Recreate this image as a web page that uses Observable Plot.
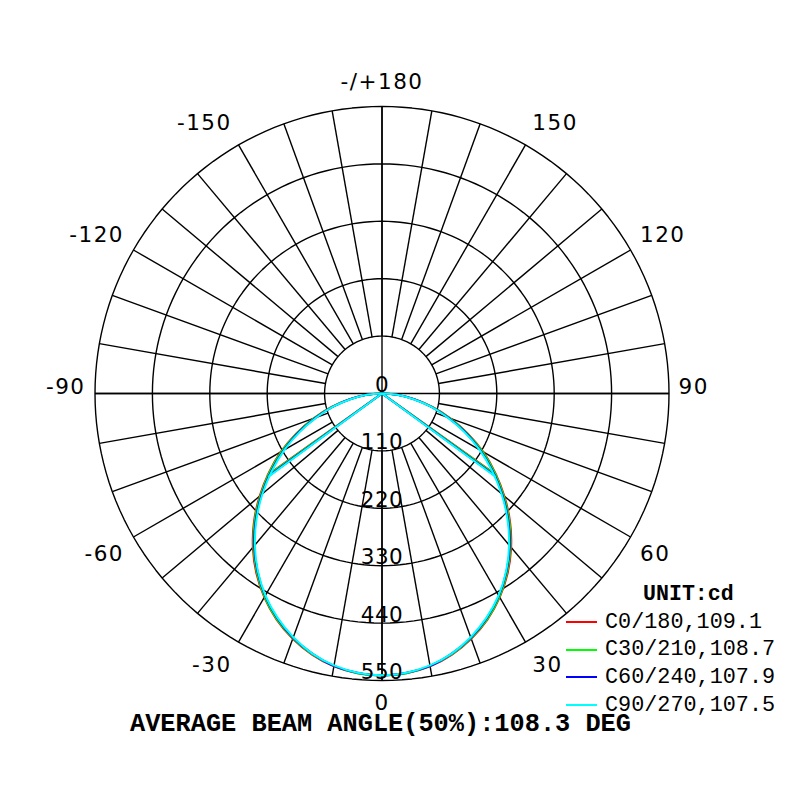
<!DOCTYPE html>
<html>
<head>
<meta charset="utf-8">
<script src="https://cdn.jsdelivr.net/npm/d3@7"></script>
<script src="https://cdn.jsdelivr.net/npm/@observablehq/plot@0.6"></script>
<style>
  body { margin: 0; background: #fff; }
  #wrap { position: relative; width: 800px; height: 800px; overflow: hidden; background: #fff; }
  #chart { position: absolute; left: 0; top: 0; }
  .mono { position: absolute; white-space: pre; color: #000;
          font-family: "Liberation Mono", "DejaVu Sans Mono", monospace; }
  .swatch { position: absolute; height: 2px; }
  .angle-labels text { letter-spacing: 1.5px; }
  .radial-labels text { letter-spacing: 0.5px; }
</style>
</head>
<body>
<div id="wrap">
  <div id="chart"></div>
</div>
<script>
// ---------------- data ----------------
const gammas = [0, 5, 10, 15, 20, 25, 30, 35, 40, 45, 50, 55, 60, 65, 70, 75, 80, 85, 90];
const c0   = [540, 538, 531, 518, 500, 478, 451, 420, 385, 347, 306, 265, 224, 181, 140, 100, 63, 30, 0];
const c30  = [540, 538, 530, 517, 499, 477, 450, 418, 383, 345, 304, 263, 222, 179, 138, 99, 62, 30, 0];
const c60  = [540, 537, 530, 516, 498, 475, 448, 416, 381, 342, 301, 259, 218, 176, 135, 97, 61, 29, 0];
const c90  = [540, 537, 529, 516, 497, 474, 447, 415, 379, 340, 299, 257, 216, 174, 133, 96, 60, 29, 0];
const seriesNames  = ["C0/180", "C30/210", "C60/240", "C90/270"];
const seriesValues = [c0, c30, c60, c90];
const seriesColors = ["#ff0000", "#00ff00", "#0000ff", "#00ffff"];
const beamAngles   = [109.1, 108.7, 107.9, 107.5];
const ringValues   = [110, 220, 330, 440, 550];
const radialTickValues = [0, 110, 220, 330, 440, 550];
const angleTicks      = [-150, -120, -90, -60, -30, 0, 30, 60, 90, 120, 150, 180];
const angleTickLabels = ["-150", "-120", "-90", "-60", "-30", "0", "30", "60", "90", "120", "150", "-/+180"];
const spokeAngles = d3.range(0, 360, 10);
const unitLabel = "UNIT:cd";
const captionText = "AVERAGE BEAM ANGLE(50%):108.3 DEG";

// ---------------- helpers ----------------
const maxR = 550;
const pxPerUnit = 287 / maxR;
const rad = a => a * Math.PI / 180;
// angle 0 = straight down, positive = to the right
const px = (a, v) => v * Math.sin(rad(a));
const py = (a, v) => -v * Math.cos(rad(a));

// rings
const ringPts = [];
for (const r of ringValues) {
  for (let a = 0; a <= 360; a += 2) ringPts.push({ring: r, x: px(a, r), y: py(a, r)});
}
// spokes (from first ring outward) and the two full axes
const spokes = spokeAngles.map(a => ({x1: px(a, ringValues[0]), y1: py(a, ringValues[0]), x2: px(a, maxR), y2: py(a, maxR)}));
const axesLines = [
  {x1: px(-90, maxR), y1: py(-90, maxR), x2: px(90, maxR), y2: py(90, maxR)},
  {x1: px(0, maxR), y1: py(0, maxR), x2: px(180, maxR), y2: py(180, maxR)}
];

// curves
function curvePoints(vals) {
  const pts = [];
  for (let i = gammas.length - 1; i >= 0; i--) pts.push({x: px(-gammas[i], vals[i]), y: py(-gammas[i], vals[i])});
  for (let i = 1; i < gammas.length; i++) pts.push({x: px(gammas[i], vals[i]), y: py(gammas[i], vals[i])});
  return pts;
}
function beamLinks(vals, beam) {
  const half = vals[0] / 2;
  return [-beam / 2, beam / 2].map(a => ({x1: 0, y1: 0, x2: px(a, half), y2: py(a, half)}));
}

// angle labels: anchored by the edge nearest the circle
const eps = 1e-6;
const angleLabelData = angleTicks.map((a, i) => {
  const s = Math.sin(rad(a)), c = Math.cos(rad(a));
  const rPx = 302 - 5.5 * s * s;
  return {
    text: angleTickLabels[i], x: px(a, rPx / pxPerUnit), y: py(a, rPx / pxPerUnit),
    ta: s > eps ? "start" : s < -eps ? "end" : "middle",
    la: c > eps ? "top" : c < -eps ? "bottom" : "middle"
  };
});
const groups = d3.groups(angleLabelData, d => d.ta + "|" + d.la);
const labelDy = (ta, la) => la === "middle" ? -6 : la === "bottom" ? -3 : ta === "middle" ? -1 : 3;

const marks = [
  Plot.line(ringPts, {x: "x", y: "y", z: "ring", stroke: "#000", strokeWidth: 1.4}),
  Plot.link(spokes, {x1: "x1", y1: "y1", x2: "x2", y2: "y2", stroke: "#000", strokeWidth: 1.4}),
  Plot.link(axesLines, {x1: "x1", y1: "y1", x2: "x2", y2: "y2", stroke: "#000", strokeWidth: 1.4})
];
seriesValues.forEach((vals, i) => {
  marks.push(Plot.line(curvePoints(vals), {x: "x", y: "y", stroke: seriesColors[i], strokeWidth: 2, curve: "catmull-rom"}));
  marks.push(Plot.link(beamLinks(vals, beamAngles[i]), {x1: "x1", y1: "y1", x2: "x2", y2: "y2", stroke: seriesColors[i], strokeWidth: 2}));
});
marks.push(Plot.text(radialTickValues, {
  x: () => 0, y: d => py(0, d), text: d => String(d),
  textAnchor: "middle", lineAnchor: "bottom", dy: -1.5,
  fontFamily: "DejaVu Sans", fontSize: 21.5, fill: "#000", className: "radial-labels"
}));
for (const [key, data] of groups) {
  const [ta, la] = key.split("|");
  marks.push(Plot.text(data, {
    x: "x", y: "y", text: "text", textAnchor: ta, lineAnchor: la,
    dy: labelDy(ta, la),
    fontFamily: "DejaVu Sans", fontSize: 21.5, fill: "#000", className: "angle-labels"
  }));
}

const chart = Plot.plot({
  width: 800,
  height: 712,
  x: {domain: [-maxR, maxR], range: [381.5 - 287, 381.5 + 287], axis: null},
  y: {domain: [-maxR, maxR], range: [393 + 287, 393 - 287], axis: null},
  style: {background: "#fff", overflow: "visible"},
  marks
});
// letter spacing for tick labels (set on the rendered text nodes)
chart.querySelectorAll(".angle-labels text").forEach(t => t.setAttribute("letter-spacing", "1.5"));
chart.querySelectorAll(".radial-labels text").forEach(t => t.setAttribute("letter-spacing", "0.5"));
document.getElementById("chart").appendChild(chart);

// ---------------- legend & caption ----------------
const wrap = document.getElementById("wrap");
const unit = document.createElement("div");
unit.className = "mono";
unit.textContent = unitLabel;
Object.assign(unit.style, {left: "643px", top: "581px", fontSize: "21.6px", lineHeight: "26px", fontWeight: "bold"});
wrap.appendChild(unit);

seriesNames.forEach((name, i) => {
  const yc = 622 + i * 27.7;
  const sw = document.createElement("div");
  sw.className = "swatch";
  Object.assign(sw.style, {left: "566px", top: (yc - 1) + "px", width: "31px", background: seriesColors[i]});
  wrap.appendChild(sw);
  const t = document.createElement("div");
  t.className = "mono";
  t.textContent = name + "," + beamAngles[i].toFixed(1);
  Object.assign(t.style, {left: "605px", top: (yc - 12.3) + "px", fontSize: "21.8px", lineHeight: "26px"});
  wrap.appendChild(t);
});

const cap = document.createElement("div");
cap.className = "mono";
cap.textContent = captionText;
Object.assign(cap.style, {left: "130px", top: "716px", fontSize: "25.3px", lineHeight: "18px", fontWeight: "bold"});
wrap.appendChild(cap);
</script>
</body>
</html>
